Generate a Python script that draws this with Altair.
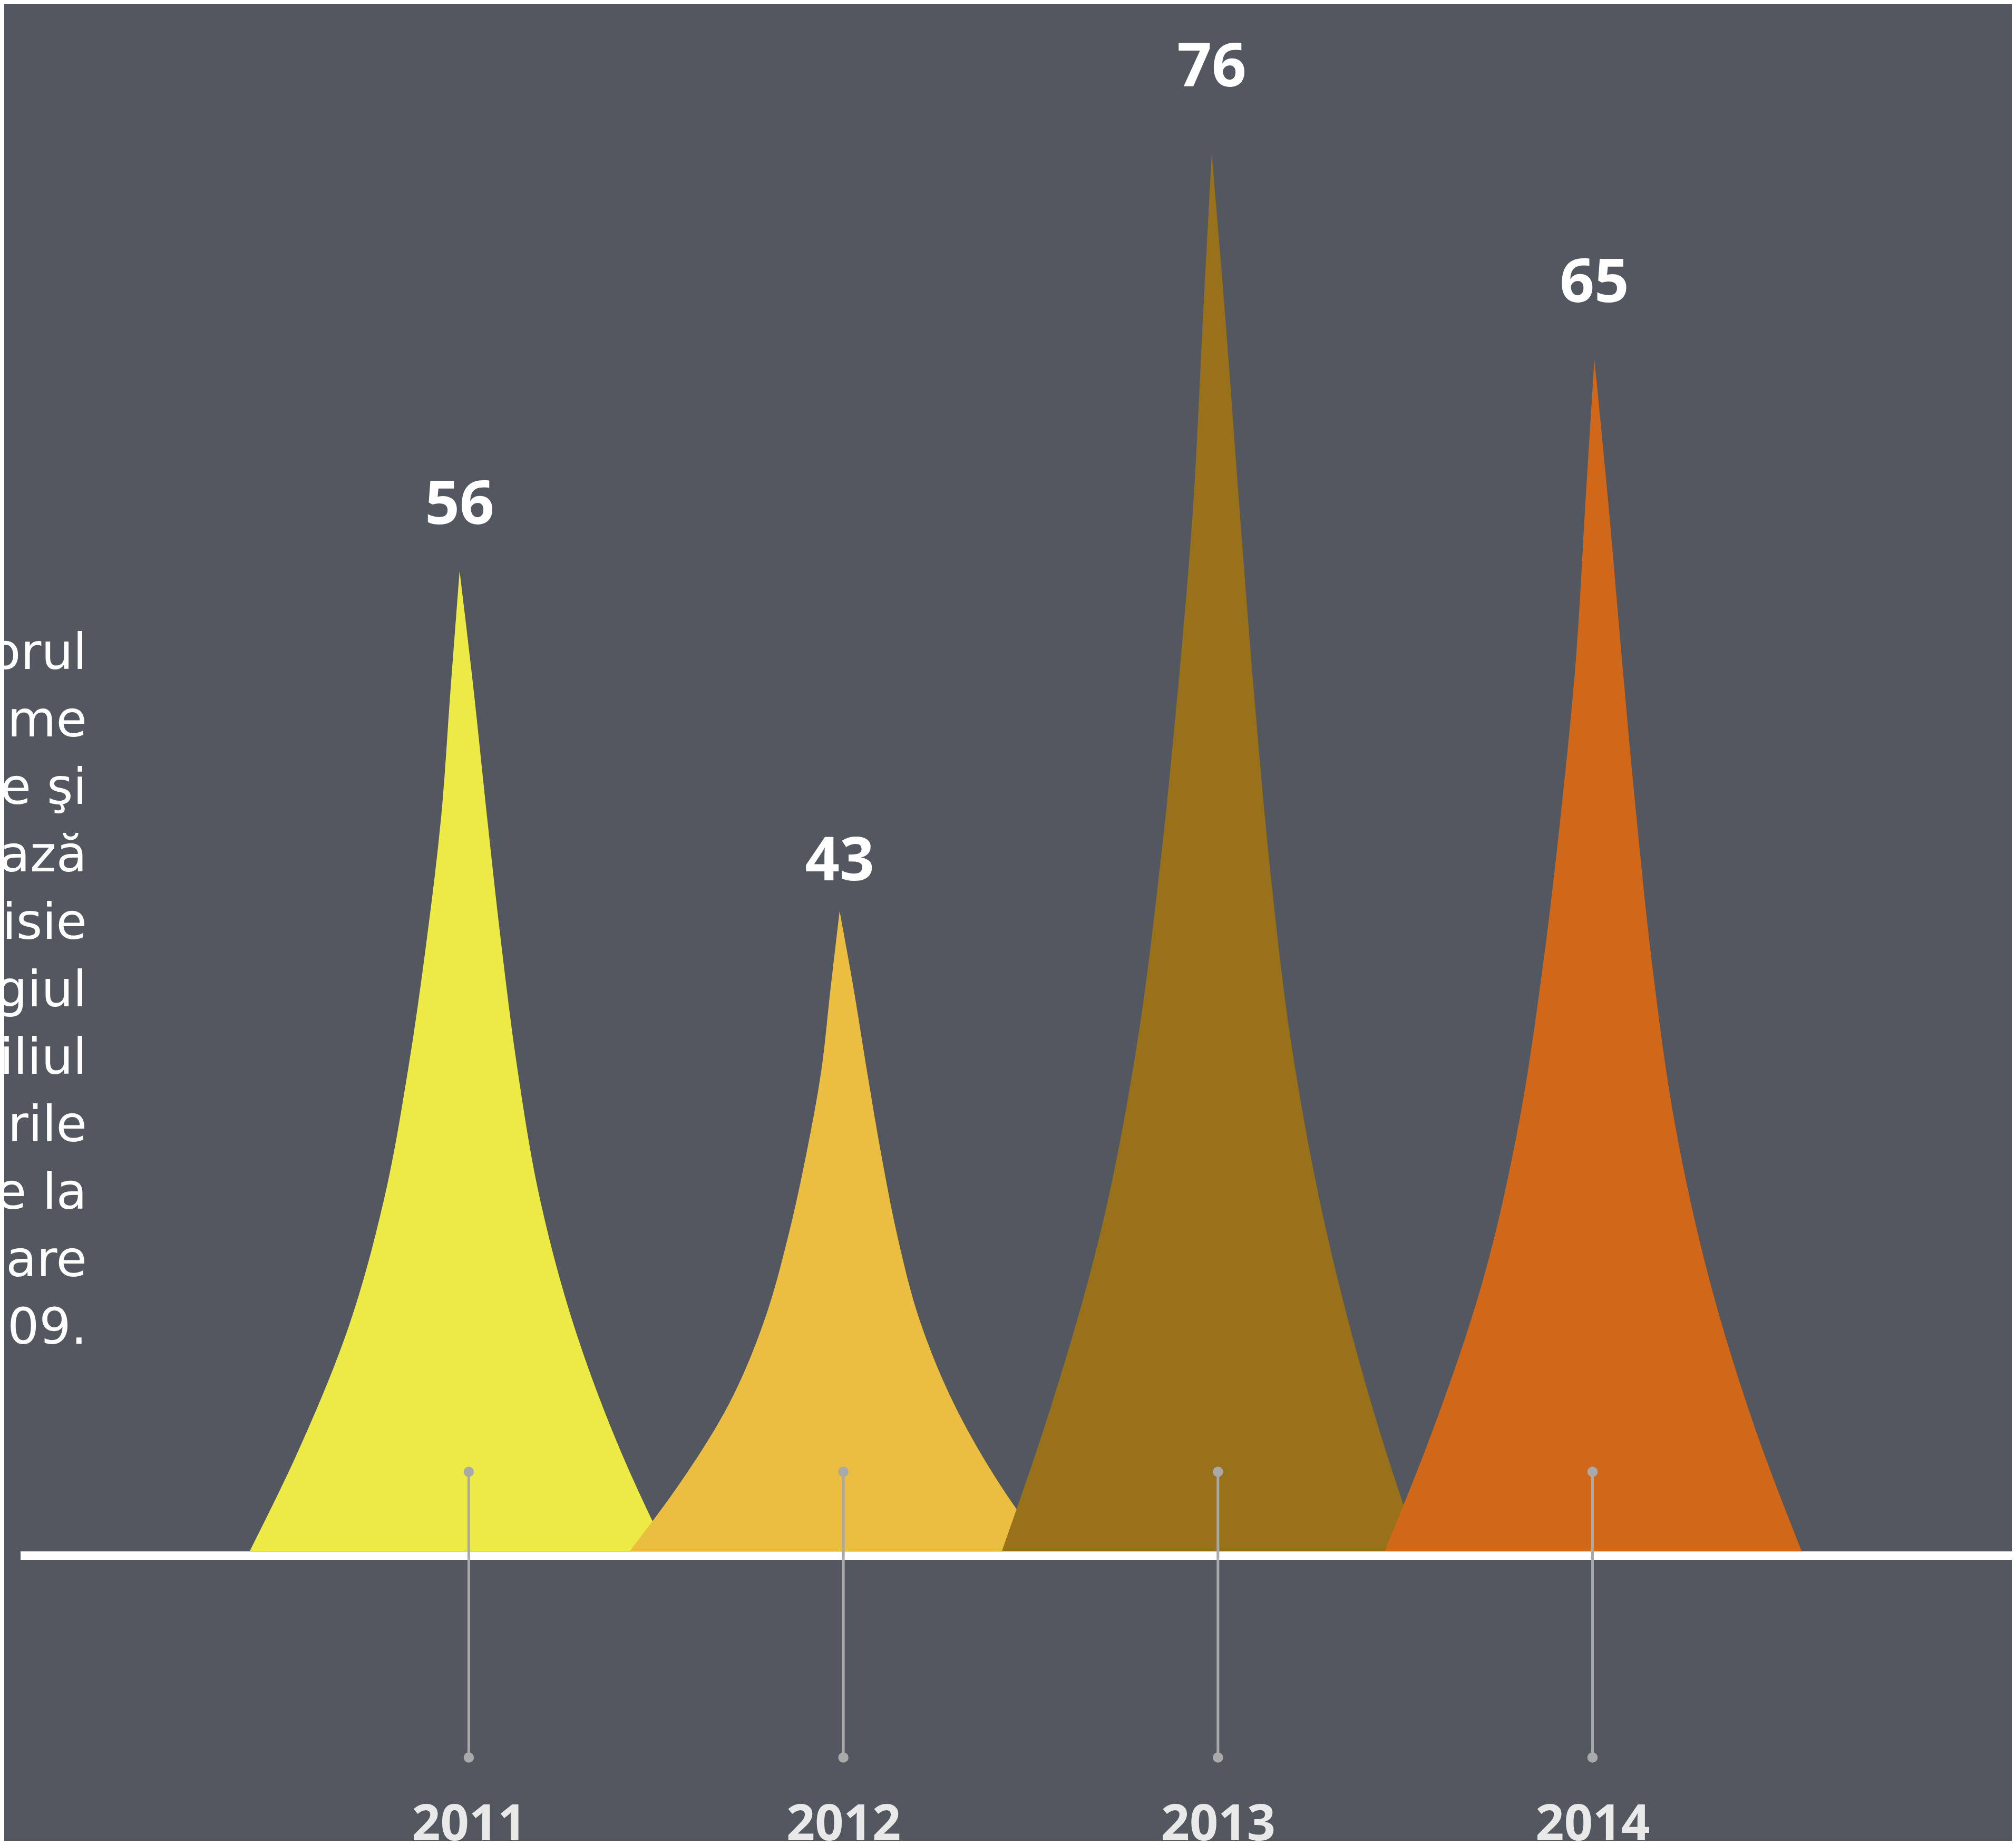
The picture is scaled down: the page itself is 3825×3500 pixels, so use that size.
import altair as alt
import pandas as pd

# ---- data ----
years = [2011, 2012, 2013, 2014]
values = [56, 43, 76, 65]
# drawn height of each spike (same units as the values)
peak_height = [53.3, 34.8, 76.0, 64.8]
# horizontal position of each spike's tip relative to its year
peak_offset = [-0.0245, -0.010, -0.0166, 0.005]
colors = ["#EEEA45", "#EBBD40", "#99711A", "#D06719"]

# spike outline: fraction of height vs left/right edge offset (in years)
profile_frac = [0.0, 0.10, 0.23, 0.36, 0.49, 0.62, 0.75, 0.88, 1.0]
profile_left = [-0.560, -0.433, -0.295, -0.201, -0.138, -0.089, -0.049, -0.024, 0.0]
profile_right = [0.553, 0.432, 0.305, 0.214, 0.155, 0.111, 0.073, 0.037, 0.0]

para_lines = [
    "sectorul", "programe", "europene şi", "realizează", "comisie", "colegiul",
    "Consiliul", "ţările", "referitoare la", "care", "2009.",
]

# ---- tables ----
shape_rows = []
for yr, h, off in zip(years, peak_height, peak_offset):
    px = yr + off
    for f, l, r in zip(profile_frac, profile_left, profile_right):
        shape_rows.append({"year": str(yr), "lvl": f * h, "x": px + l, "x2": px + r})
shape_df = pd.DataFrame(shape_rows)

label_df = pd.DataFrame({
    "x": [yr + off for yr, off in zip(years, peak_offset)],
    "lvl": peak_height,
    "value": [str(v) for v in values],
})
stem_df = pd.DataFrame({"year": years})

W, H = 3809, 3484
BG = "#53575F"
STEM = "#A9A9A9"

xscale = alt.Scale(domain=[2009.7598, 2015.1193], zero=False, nice=False)
yscale = alt.Scale(domain=[-15.77, 84.12], zero=False, nice=False)
xaxis = alt.Axis(
    values=years, format="d", domain=False, ticks=False, tickSize=0, grid=False,
    labelFontSize=95, labelFont="Open Sans", labelFontWeight="bold", labelLimit=0,
    labelColor="#E9E9E9", labelPadding=-2, labelBaseline="alphabetic",
    labelFlush=False, labelOverlap=False, title=None,
)
cscale = alt.Scale(domain=[str(y) for y in years], range=colors)

shapes = alt.Chart(shape_df).mark_area(orient="horizontal", interpolate="monotone").encode(
    y=alt.Y("lvl:Q", scale=yscale, axis=None),
    x=alt.X("x:Q", scale=xscale, axis=xaxis, stack=None),
    x2=alt.X2("x2"),
    color=alt.Color("year:N", scale=cscale, legend=None),
)

baseline = alt.Chart(alt.Data(values=[{}])).mark_rule(color="white", strokeWidth=16).encode(
    x=alt.value(31), x2=alt.value(W), y=alt.value(2943)
)

stems = alt.Chart(stem_df).mark_rule(color=STEM, strokeWidth=5).encode(
    x=alt.X("year:Q", scale=xscale, axis=xaxis),
    y=alt.value(2784), y2=alt.value(3326),
)
dots_top = alt.Chart(stem_df).mark_circle(size=380, color=STEM, opacity=1).encode(
    x=alt.X("year:Q", scale=xscale, axis=xaxis), y=alt.value(2784)
)
dots_bot = alt.Chart(stem_df).mark_circle(size=380, color=STEM, opacity=1).encode(
    x=alt.X("year:Q", scale=xscale, axis=xaxis), y=alt.value(3326)
)

labels = alt.Chart(label_df).transform_calculate(ly="datum.lvl * 1.048").mark_text(
    font="Open Sans", fontSize=115, fontWeight="bold", color="white",
    baseline="alphabetic", align="center",
).encode(
    x=alt.X("x:Q", scale=xscale, axis=xaxis),
    y=alt.Y("ly:Q", scale=yscale, axis=None),
    text="value:N",
)

para = alt.Chart(alt.Data(values=[{}])).mark_text(
    text=para_lines, align="right", baseline="alphabetic", font="DejaVu Sans",
    fontSize=95, lineHeight=128, color="white",
).encode(x=alt.value(157), y=alt.value(1261))

chart = alt.layer(shapes, baseline, stems, dots_top, dots_bot, labels, para).properties(
    width=W, height=H, autosize=alt.AutoSizeParams(type="none"), padding=0, background=BG,
).configure_view(stroke=None)

chart.save("out.html", embed_options={"renderer": "svg", "actions": False})
